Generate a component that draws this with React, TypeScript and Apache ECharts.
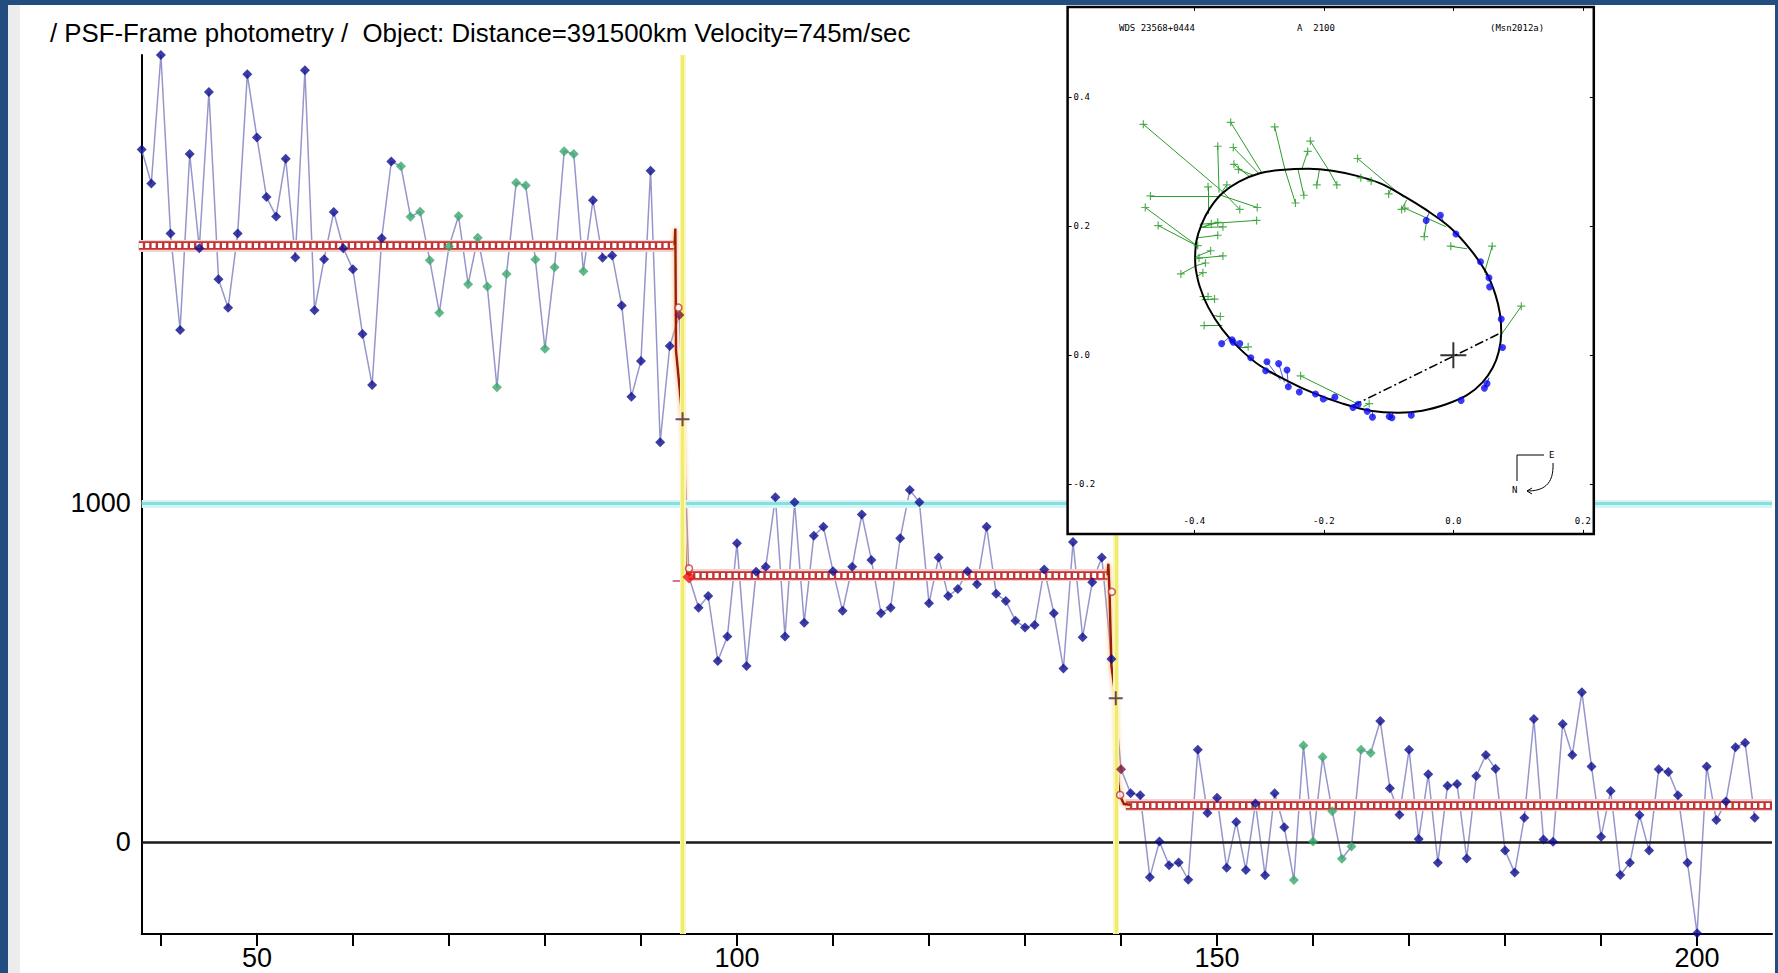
import React, { useEffect, useRef } from "react";
import * as echarts from "echarts";

// ---------- main light curve ----------
const FIRST_FRAME = 38;
const flux = [
  2043, 1943, 2322, 1796, 1511, 2030, 1752, 2213, 1661, 1577, // 38-47
  1796, 2265, 2079, 1903, 1846, 2016, 1725, 2277, 1569, 1720, // 48-57
  1859, 1752, 1690, 1499, 1349, 1782, 2008, 1994, 1845, 1860, // 58-67
  1717, 1562, 1757, 1847, 1646, 1783, 1639, 1342, 1676, 1945, // 68-77
  1937, 1719, 1456, 1696, 2038, 2030, 1684, 1894, 1724, 1731, // 78-87
  1583, 1314, 1420, 1981, 1180, 1464, 1555, 783, 692, 727,    // 88-97
  535, 607, 882, 520, 798, 813, 1018, 607, 1003, 648,         // 98-107
  904, 931, 800, 683, 813, 967, 833, 676, 692, 897,           // 108-117
  1039, 1003, 705, 840, 727, 747, 800, 761, 931, 733,         // 118-127
  712, 654, 634, 641, 805, 676, 513, 886, 605, 767,           // 128-137
  840, 541, 216, 145, 139, -103, 3, -67, -59, -110,           // 138-147
  273, 87, 132, -75, 60, -81, 115, -97, 145, 45,              // 148-157
  -111, 286, 3, 252, 92, -48, -12, 273, 264, 358,             // 158-167
  160, 82, 273, 10, 201, -60, 167, 172, -47, 196,             // 168-177
  258, 217, -24, -89, 73, 364, 9, 2, 349, 258,                // 178-187
  443, 224, 17, 152, -96, -60, 81, -24, 216, 208,             // 188-197
  139, -60, -268, 224, 66, 121, 281, 294, 73,                 // 198-206
];
const greenSpans = [[65, 84], [158, 166]];
const redFrames = [95];
const maroonFrames = [94, 140];

const xTickValues = [40, 50, 60, 70, 80, 90, 100, 110, 120, 130, 140, 150, 160, 170, 180, 190, 200];
const xLabelValues = [50, 100, 150, 200];
const yLabelValues = [0, 1000];

// fitted model (step levels and the two drops)
const modelPlateaus = [
  [[37.7, 1760], [93.5, 1760]],
  [[95.0, 788], [138.6, 788]],
  [[140.5, 111], [207.8, 111]],
];
const ingress = [[93.5, 1760], [93.58, 1810], [93.65, 1450], [94.33, 1248], [94.5, 1100], [94.55, 920], [94.65, 795], [95.2, 788]];
const egress = [[138.6, 788], [138.68, 822], [138.8, 740], [139.0, 520], [139.45, 425], [139.55, 290], [139.7, 180], [139.85, 140], [140.3, 113], [141, 111]];
const contactMarks = [[94.33, 1248], [139.45, 425]];
const modelCircles = [[93.9, 1577], [95, 808], [139.04, 739], [139.9, 140]];
const pinkTick = [[93.3, 772], [94.6, 772]];
const yellowLines = [94.35, 139.45];
const cyanLevel = 1000;
const zeroLevel = 0;

// ---------- inset orbit plot ----------
const orbit = [
  [-0.399, 0.150], [-0.397, 0.177], [-0.389, 0.203], [-0.376, 0.228], [-0.357, 0.251],
  [-0.331, 0.269], [-0.299, 0.282], [-0.267, 0.287], [-0.224, 0.289], [-0.187, 0.286],
  [-0.149, 0.278], [-0.112, 0.266], [-0.075, 0.246], [-0.043, 0.226], [-0.005, 0.198],
  [0.027, 0.163], [0.051, 0.128], [0.065, 0.094], [0.072, 0.064], [0.074, 0.035],
  [0.070, 0.005], [0.061, -0.019], [0.045, -0.042], [0.021, -0.062], [-0.011, -0.076],
  [-0.048, -0.086], [-0.085, -0.089], [-0.128, -0.086], [-0.171, -0.075], [-0.213, -0.060],
  [-0.256, -0.040], [-0.299, -0.016], [-0.331, 0.011], [-0.357, 0.040], [-0.379, 0.075],
  [-0.392, 0.107], [-0.398, 0.134], [-0.399, 0.150],
];
const greenObs = [
  [-0.479, 0.358], [-0.344, 0.361], [-0.276, 0.354], [-0.244, 0.236], [-0.221, 0.332],
  [-0.180, 0.264], [-0.225, 0.316], [-0.211, 0.264], [-0.231, 0.248], [-0.364, 0.324],
  [-0.340, 0.322], [-0.339, 0.296], [-0.332, 0.288], [-0.148, 0.305], [-0.143, 0.275],
  [-0.127, 0.270], [-0.100, 0.250], [-0.080, 0.226], [-0.075, 0.228], [-0.045, 0.184],
  [-0.004, 0.169], [0.060, 0.169], [0.105, 0.076], [-0.468, 0.247], [-0.379, 0.261],
  [-0.350, 0.264], [-0.330, 0.226], [-0.303, 0.229], [-0.304, 0.209], [-0.476, 0.229],
  [-0.456, 0.201], [-0.374, 0.204], [-0.364, 0.206], [-0.356, 0.199], [-0.364, 0.186],
  [-0.395, 0.170], [-0.375, 0.162], [-0.356, 0.154], [-0.393, 0.151], [-0.383, 0.143],
  [-0.387, 0.128], [-0.421, 0.126], [-0.379, 0.091], [-0.369, 0.087], [-0.360, 0.060],
  [-0.385, 0.046], [-0.317, 0.013], [-0.236, -0.032], [-0.130, -0.075],
];
const greenFit = [
  [-0.357, 0.254], [-0.296, 0.283], [-0.260, 0.287], [-0.260, 0.287], [-0.192, 0.286],
  [-0.192, 0.286], [-0.234, 0.289], [-0.207, 0.287], [-0.240, 0.288], [-0.362, 0.252],
  [-0.301, 0.282], [-0.315, 0.277], [-0.309, 0.279], [-0.077, 0.245], [-0.141, 0.276],
  [-0.125, 0.272], [-0.096, 0.258], [-0.072, 0.241], [-0.011, 0.199], [-0.040, 0.217],
  [0.021, 0.165], [0.048, 0.128], [0.072, 0.029], [-0.361, 0.247], [-0.379, 0.219],
  [-0.357, 0.254], [-0.357, 0.254], [-0.362, 0.249], [-0.392, 0.203], [-0.395, 0.169],
  [-0.395, 0.169], [-0.389, 0.198], [-0.389, 0.198], [-0.389, 0.198], [-0.395, 0.182],
  [-0.397, 0.166], [-0.397, 0.153], [-0.397, 0.150], [-0.397, 0.150], [-0.397, 0.139],
  [-0.396, 0.122], [-0.397, 0.139], [-0.392, 0.091], [-0.389, 0.086], [-0.373, 0.062],
  [-0.357, 0.046], [-0.331, 0.013], [-0.149, -0.075], [-0.139, -0.080],
];
const blueObs = [
  [-0.042, 0.209], [-0.020, 0.217], [0.004, 0.188], [0.042, 0.145], [0.055, 0.120],
  [0.056, 0.106], [0.074, 0.056], [0.076, 0.012], [0.052, -0.044], [0.048, -0.051],
  [0.012, -0.070], [-0.065, -0.093], [-0.095, -0.097], [-0.099, -0.095], [-0.125, -0.096],
  [-0.133, -0.087], [-0.147, -0.076], [-0.155, -0.081], [-0.183, -0.065], [-0.201, -0.068],
  [-0.213, -0.060], [-0.238, -0.057], [-0.255, -0.049], [-0.257, -0.023], [-0.270, -0.013],
  [-0.288, -0.010], [-0.290, -0.024], [-0.313, -0.004], [-0.330, 0.018], [-0.340, 0.020],
  [-0.342, 0.024], [-0.358, 0.018],
];
const blueFit = [
  [-0.037, 0.222], [-0.013, 0.203], [0.000, 0.190], [0.038, 0.142], [0.049, 0.126],
  [0.056, 0.107], [0.073, 0.056], [0.072, 0.013], [0.055, -0.035], [0.055, -0.035],
  [0.013, -0.064], [-0.065, -0.087], [-0.095, -0.088], [-0.099, -0.088], [-0.125, -0.086],
  [-0.133, -0.084], [-0.147, -0.079], [-0.155, -0.078], [-0.197, -0.070], [-0.201, -0.068],
  [-0.213, -0.060], [-0.238, -0.055], [-0.255, -0.047], [-0.255, -0.047], [-0.261, -0.042],
  [-0.267, -0.039], [-0.282, -0.029], [-0.313, -0.004], [-0.330, 0.018], [-0.340, 0.020],
  [-0.342, 0.024], [-0.347, 0.027],
];
const nodeLine = [[-0.155, -0.078], [0.074, 0.035]];
const primary = [[0, 0]];
const insetTicksX = [-0.4, -0.2, 0, 0.2];
const insetTicksY = [-0.2, 0, 0.2, 0.4];
const insetHeader = ["WDS 23568+0444", "A  2100", "(Msn2012a)"];
const titleText = "/ PSF-Frame photometry /  Object: Distance=391500km Velocity=745m/sec";

const NAVY = "#0b0b8e";
const GREEN = "#3aa86c";
const RED = "#ee1111";
const MAROON = "#7a1238";
const FONT = "'Liberation Sans',Arial,sans-serif";
const MONO = "'DejaVu Sans Mono','Liberation Mono',monospace";
const PLUS = "path://M0 -10 L0 10 M-10 0 L10 0";

function pointColor(f: number) {
  if (redFrames.includes(f)) return RED;
  if (maroonFrames.includes(f)) return MAROON;
  if (greenSpans.some(([a, b]) => f >= a && f <= b)) return GREEN;
  return NAVY;
}

export default function App() {
  const ref = useRef<HTMLDivElement>(null);
  useEffect(() => {
    if (!ref.current) return;
    const chart = echarts.init(ref.current, undefined, { renderer: "svg" });
    const pts = flux.map((v, i) => [FIRST_FRAME + i, v]);
    const insetAxisCommon = {
      gridIndex: 1,
      type: "value",
      splitLine: { show: false },
      axisLine: { show: false, onZero: false },
      z: 60,
    };
    const plateauData = modelPlateaus.map((c) => ({ coords: c }));
    const option: any = {
      animation: false,
      backgroundColor: "transparent",
      grid: [
        { left: 141.7, top: 55, width: 1772 - 141.7, height: 934 - 55 },
        { left: 1067.6, top: 6.9, width: 526.2, height: 527 },
      ],
      xAxis: [
        {
          gridIndex: 0, type: "value", min: 38, max: 207.8,
          axisLine: { show: true, onZero: false, lineStyle: { color: "#000", width: 2 } },
          axisTick: { show: true, customValues: xTickValues, length: 12, lineStyle: { color: "#000", width: 2 } },
          axisLabel: { customValues: xLabelValues, margin: 10, fontSize: 27, fontFamily: FONT, color: "#000", formatter: (v: number) => String(v) },
          splitLine: { show: false },
        },
        {
          ...insetAxisCommon, min: -0.596, max: 0.217, position: "bottom",
          axisTick: { show: true, inside: true, length: 4, customValues: insetTicksX, lineStyle: { color: "#000" } },
          axisLabel: { inside: true, margin: 8, customValues: insetTicksX, formatter: (v: number) => v.toFixed(1), fontFamily: MONO, fontSize: 9, color: "#000" },
        },
        {
          ...insetAxisCommon, min: -0.596, max: 0.217, position: "top",
          axisTick: { show: true, inside: true, length: 4, customValues: insetTicksX, lineStyle: { color: "#000" } },
          axisLabel: { show: false },
        },
      ],
      yAxis: [
        {
          gridIndex: 0, type: "value", min: -270, max: 2322,
          axisLine: { show: true, onZero: false, lineStyle: { color: "#000", width: 2 } },
          axisTick: { show: false },
          axisLabel: { customValues: yLabelValues, margin: 11, fontSize: 27, fontFamily: FONT, color: "#000", formatter: (v: number) => String(v) },
          splitLine: { show: false },
        },
        {
          ...insetAxisCommon, min: -0.277, max: 0.54, position: "left",
          axisTick: { show: true, inside: true, length: 4, customValues: insetTicksY, lineStyle: { color: "#000" } },
          axisLabel: { inside: true, margin: 6, customValues: insetTicksY, formatter: (v: number) => v.toFixed(1), fontFamily: MONO, fontSize: 9, color: "#000" },
        },
        {
          ...insetAxisCommon, min: -0.277, max: 0.54, position: "right",
          axisTick: { show: true, inside: true, length: 4, customValues: insetTicksY, lineStyle: { color: "#000" } },
          axisLabel: { show: false },
        },
      ],
      graphic: [
        {
          type: "text", left: 50, top: 20, z: 10,
          style: { text: titleText, font: `25.8px ${FONT}`, fill: "#000" },
        },
        {
          type: "rect", z: 50, silent: true,
          shape: { x: 1067.6, y: 6.9, width: 526.2, height: 527 },
          style: { fill: "#fff", stroke: "#000", lineWidth: 2.5 },
        },
        { type: "text", x: 1119, y: 28, z: 61, style: { text: insetHeader[0], font: `9px ${MONO}`, fill: "#000", verticalAlign: "middle" } },
        { type: "text", x: 1297, y: 28, z: 61, style: { text: insetHeader[1], font: `9px ${MONO}`, fill: "#000", verticalAlign: "middle" } },
        { type: "text", x: 1490, y: 28, z: 61, style: { text: insetHeader[2], font: `9px ${MONO}`, fill: "#000", verticalAlign: "middle" } },
        { type: "polyline", z: 61, shape: { points: [[1544, 455], [1517, 455], [1517, 481]] }, style: { stroke: "#000", lineWidth: 1, fill: null } },
        { type: "text", x: 1549, y: 455, z: 61, style: { text: "E", font: `9px ${MONO}`, fill: "#000", verticalAlign: "middle" } },
        { type: "text", x: 1512, y: 490, z: 61, style: { text: "N", font: `9px ${MONO}`, fill: "#000", verticalAlign: "middle" } },
        { type: "bezierCurve", z: 61, shape: { x1: 1553, y1: 463, cpx1: 1554, cpy1: 485, cpx2: 1543, cpy2: 491, x2: 1527, y2: 491 }, style: { stroke: "#000", lineWidth: 1, fill: null } },
        { type: "polyline", z: 61, shape: { points: [[1532, 488], [1527, 491], [1532, 494]] }, style: { stroke: "#000", lineWidth: 1, fill: null } },
      ],
      series: [
        {
          type: "line", xAxisIndex: 0, yAxisIndex: 0, data: [], z: 1, silent: true, showSymbol: false,
          markLine: {
            symbol: ["none", "none"], silent: true, label: { show: false }, animation: false,
            data: [
              { yAxis: cyanLevel, lineStyle: { color: "#d4f5f5", width: 8, type: "solid" } },
              { yAxis: cyanLevel, lineStyle: { color: "#86dede", width: 3, type: "solid" } },
              { yAxis: zeroLevel, lineStyle: { color: "#1a1a1a", width: 2.5, type: "solid" } },
              ...yellowLines.map((x) => ({ xAxis: x, lineStyle: { color: "#faf6b8", width: 6, type: "solid" } })),
              ...yellowLines.map((x) => ({ xAxis: x, lineStyle: { color: "#f2ec6e", width: 3, type: "solid" } })),
            ],
          },
        },
        {
          type: "line", xAxisIndex: 0, yAxisIndex: 0, data: pts, symbol: "none", silent: true, z: 2,
          lineStyle: { color: "#9696cc", width: 1.5 },
        },
        {
          type: "lines", coordinateSystem: "cartesian2d", xAxisIndex: 0, yAxisIndex: 0, z: 3, silent: true,
          data: plateauData,
          lineStyle: { color: "#f5d0d0", width: 12, opacity: 1 },
        },
        {
          type: "lines", coordinateSystem: "cartesian2d", xAxisIndex: 0, yAxisIndex: 0, z: 3, silent: true,
          data: plateauData,
          lineStyle: { color: "#c03434", width: 8.5, opacity: 1 },
        },
        {
          type: "lines", coordinateSystem: "cartesian2d", xAxisIndex: 0, yAxisIndex: 0, z: 3, silent: true,
          data: plateauData,
          lineStyle: { color: "#ffffff", width: 5, opacity: 1, type: [4, 2.4] },
        },
        {
          type: "lines", coordinateSystem: "cartesian2d", xAxisIndex: 0, yAxisIndex: 0, z: 3, silent: true, polyline: true,
          data: [{ coords: ingress }, { coords: egress }],
          lineStyle: { color: "#9a1c10", width: 2.5, opacity: 1, shadowBlur: 4, shadowColor: "#ff9a40" },
        },
        {
          type: "lines", coordinateSystem: "cartesian2d", xAxisIndex: 0, yAxisIndex: 0, z: 3, silent: true,
          data: [{ coords: pinkTick }],
          lineStyle: { color: "#e070a0", width: 2, opacity: 1 },
        },
        {
          type: "scatter", xAxisIndex: 0, yAxisIndex: 0, z: 5, silent: true, clip: false,
          symbol: "diamond", symbolSize: 10,
          data: pts.map(([f, v]) => ({
            value: [f, v],
            symbolSize: redFrames.includes(f) ? 13 : 10,
            itemStyle: { color: pointColor(f) },
          })),
        },
        {
          type: "scatter", xAxisIndex: 0, yAxisIndex: 0, z: 6, silent: true,
          symbol: "circle", symbolSize: 7, data: modelCircles,
          itemStyle: { color: "#fff", borderColor: "#c03030", borderWidth: 1.5 },
        },
        {
          type: "scatter", xAxisIndex: 0, yAxisIndex: 0, z: 6, silent: true,
          symbol: PLUS, symbolSize: 14, data: contactMarks,
          itemStyle: { color: "none", borderColor: "#4a1f4a", borderWidth: 2 },
        },
        // inset
        {
          type: "line", xAxisIndex: 1, yAxisIndex: 1, z: 60, silent: true, smooth: 0.35,
          data: orbit, symbol: "none", lineStyle: { color: "#000", width: 2 },
        },
        {
          type: "line", xAxisIndex: 1, yAxisIndex: 1, z: 60, silent: true,
          data: nodeLine, symbol: "none", lineStyle: { color: "#000", width: 1.5, type: [9, 3, 2, 3] },
        },
        {
          type: "lines", coordinateSystem: "cartesian2d", xAxisIndex: 1, yAxisIndex: 1, z: 60, silent: true,
          data: greenObs.map((o, i) => ({ coords: [o, greenFit[i]] })),
          lineStyle: { color: "#2c9c2c", width: 1, opacity: 1 },
        },
        {
          type: "lines", coordinateSystem: "cartesian2d", xAxisIndex: 1, yAxisIndex: 1, z: 60, silent: true,
          data: blueObs.map((o, i) => ({ coords: [o, blueFit[i]] })),
          lineStyle: { color: "#4a5ae0", width: 1, opacity: 1 },
        },
        {
          type: "scatter", xAxisIndex: 1, yAxisIndex: 1, z: 61, silent: true,
          symbol: PLUS, symbolSize: 8, data: greenObs,
          itemStyle: { color: "none", borderColor: "#2c9c2c", borderWidth: 1.2 },
        },
        {
          type: "scatter", xAxisIndex: 1, yAxisIndex: 1, z: 61, silent: true,
          symbol: "circle", symbolSize: 7, data: blueObs,
          itemStyle: { color: "#0a0af0" },
        },
        {
          type: "scatter", xAxisIndex: 1, yAxisIndex: 1, z: 61, silent: true,
          symbol: PLUS, symbolSize: 26, data: primary,
          itemStyle: { color: "none", borderColor: "#000", borderWidth: 2 },
        },
      ],
    };
    chart.setOption(option);
    return () => chart.dispose();
  }, []);

  return (
    <div style={{ position: "fixed", left: 0, top: 0, width: 1778, height: 973, background: "#224d80", overflow: "hidden" }}>
      <div style={{ position: "absolute", left: 8, top: 5, width: 1767, height: 968, background: "#ffffff" }} />
      <div style={{ position: "absolute", left: 8, top: 5, width: 12, height: 968, background: "#ececec" }} />
      <div ref={ref} style={{ position: "absolute", left: 0, top: 0, width: 1778, height: 973 }} />
    </div>
  );
}
